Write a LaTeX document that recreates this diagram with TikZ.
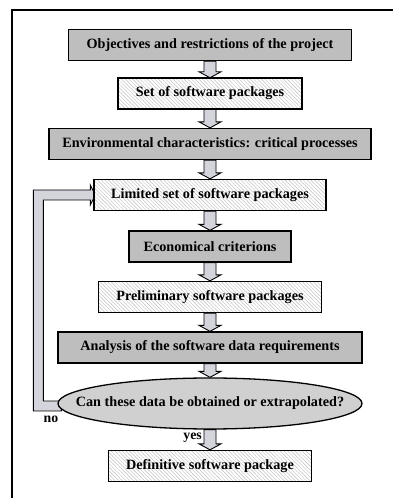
\documentclass[tikz,border=0pt]{standalone}
\usepackage{fontspec}
\setmainfont{Liberation Serif}
\usetikzlibrary{shapes.geometric,patterns.meta,calc,backgrounds}
\definecolor{boxgray}{HTML}{BEBEBE}
\definecolor{ellgray}{HTML}{D0D0D0}
\definecolor{arrgray}{HTML}{D4D4DC}
\tikzset{
  base/.style={draw=black, line width=1.3pt, inner sep=0pt, font=\fontsize{14.2}{16}\selectfont\bfseries, minimum height=31pt},
  graybox/.style={base, fill=boxgray},
  hatchbox/.style={base, preaction={fill=white}, pattern={Lines[angle=-45,distance=2.6pt,line width=0.45pt]}, pattern color=gray!50},
  decision/.style={base, ellipse, fill=ellgray, minimum width=304pt, minimum height=51pt},
  blockarrow/.style={draw=black, line width=0.9pt, fill=arrgray, line join=miter},
  lbl/.style={font=\fontsize{13.8}{16}\selectfont\bfseries, inner sep=0pt},
}
\newcommand{\varrow}[2]{%
  \draw[blockarrow] ($(#1.south)+(-6,0)$) -- ($(#2.north)+(-6,6)$) -- ($(#2.north)+(-11,6)$) -- (#2.north)
    -- ($(#2.north)+(11,6)$) -- ($(#2.north)+(6,6)$) -- ($(#1.south)+(6,0)$) -- cycle;}
\begin{document}
\begin{tikzpicture}[x=1pt,y=1pt]
\useasboundingbox (0,0) rectangle (393,498);
\draw[line width=1.5pt] (12,0) -- (12,488) -- (393,488);
\node[graybox, minimum width=283pt] (obj) at (210,453) {Objectives and restrictions of the project};
\node[hatchbox, minimum width=184pt] (set) at (210,404.5) {Set of software packages};
\node[graybox, minimum width=322pt] (env) at (210,354) {Environmental characteristics: critical processes};
\node[hatchbox, minimum width=232pt] (lim) at (210,303) {Limited set of software packages};
\node[graybox, minimum width=162pt] (eco) at (210,251.5) {Economical criterions};
\node[hatchbox, minimum width=223pt] (pre) at (210,201) {Preliminary software packages};
\node[graybox, minimum width=304pt] (ana) at (210,150.5) {Analysis of the software data requirements};
\node[decision] (q) at (210,94.5) {\makebox[0pt]{Can these data be obtained or extrapolated?}};
\node[hatchbox, minimum width=203pt] (def) at (210,32) {Definitive software package};
\node[lbl, anchor=east] (yes) at (202,60) {yes};
\node[lbl] (no) at (51,79) {no};
\begin{scope}[on background layer]
\varrow{obj}{set}
\varrow{set}{env}
\varrow{env}{lim}
\varrow{lim}{eco}
\varrow{eco}{pre}
\varrow{pre}{ana}
\varrow{ana}{q}
\varrow{q}{def}
\draw[blockarrow] ($(q.west)+(4,-7.5)$) -- ($(q.west)+(-24,-7.5)$) |- ($(lim.west)+(-3,5)$) -- ($(lim.west)+(-3,10)$)
  -- ($(lim.west)+(2,0)$) -- ($(lim.west)+(-3,-10)$) -- ($(lim.west)+(-3,-5)$) -| ($(q.west)+(-14,2.5)$) -- ($(q.west)+(4,2.5)$) -- cycle;
\end{scope}
\end{tikzpicture}
\end{document}
